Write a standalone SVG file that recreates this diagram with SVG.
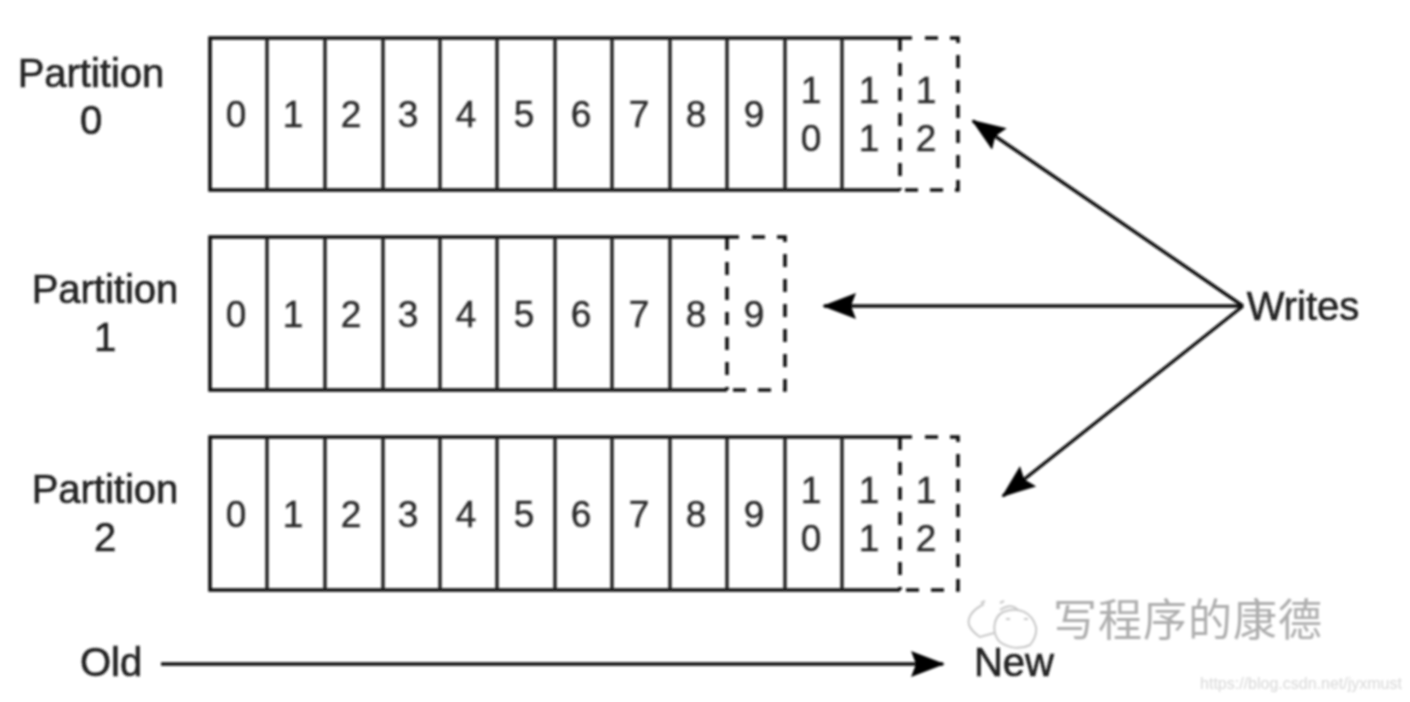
<svg xmlns="http://www.w3.org/2000/svg" width="1410" height="702" viewBox="0 0 1410 702">
<style>
text{font-family:"Liberation Sans",Arial,"Noto Sans CJK SC",sans-serif;fill:#222;text-anchor:middle}
.l{font-size:40px;stroke:#222;stroke-width:.6}
.d{font-size:37px;fill:#2a2a2a;stroke:#2a2a2a;stroke-width:.4}
.b{fill:none;stroke:#111;stroke-width:3.6}
.c{stroke:#222;stroke-width:3.4;fill:none}
.s{fill:none;stroke:#111;stroke-width:3.6;stroke-dasharray:13 12}
.a{stroke:#111;stroke-width:3.4;fill:none;marker-end:url(#h)}
</style>
<defs>
<marker id="h" viewBox="0 0 34 26" refX="32" refY="13" markerWidth="34" markerHeight="26" markerUnits="userSpaceOnUse" orient="auto"><path d="M0 0L34 13L0 26L5 13Z" fill="#000"/></marker>
<filter id="f" x="0" y="0" width="1410" height="702" filterUnits="userSpaceOnUse"><feGaussianBlur stdDeviation="0.8"/></filter>
</defs>
<rect width="1410" height="702" fill="#fff"/>
<g filter="url(#f)">
<g id="partition0">
<path class="b" d="M912 38H210V190H900"/>
<path class="c" d="M267 38V190M325 38V190M383 38V190M440 38V190M497 38V190M555 38V190M612 38V190M670 38V190M727 38V190M785 38V190M842 38V190"/>
<path class="s" d="M900 38V190"/>
<path class="s" d="M925 38H958V190H905"/>
<text class="l" x="91" y="87">Partition</text><text class="l" x="91" y="134">0</text>
<text class="d" x="236" y="127">0</text><text class="d" x="293" y="127">1</text><text class="d" x="351" y="127">2</text><text class="d" x="408" y="127">3</text><text class="d" x="466" y="127">4</text><text class="d" x="524" y="127">5</text><text class="d" x="581" y="127">6</text><text class="d" x="639" y="127">7</text><text class="d" x="696" y="127">8</text><text class="d" x="754" y="127">9</text>
<text class="d" x="811" y="103">1</text><text class="d" x="811" y="151">0</text><text class="d" x="869" y="103">1</text><text class="d" x="869" y="151">1</text><text class="d" x="926" y="103">1</text><text class="d" x="926" y="151">2</text>
</g>
<g id="partition1">
<path class="b" d="M739 237H210V390H727"/>
<path class="c" d="M267 237V390M325 237V390M383 237V390M440 237V390M497 237V390M555 237V390M612 237V390M670 237V390"/>
<path class="s" d="M727 237V390"/>
<path class="s" d="M752 237H785V390H732"/>
<text class="l" x="105" y="303">Partition</text><text class="l" x="105" y="351">1</text>
<text class="d" x="236" y="327">0</text><text class="d" x="293" y="327">1</text><text class="d" x="351" y="327">2</text><text class="d" x="408" y="327">3</text><text class="d" x="466" y="327">4</text><text class="d" x="524" y="327">5</text><text class="d" x="581" y="327">6</text><text class="d" x="639" y="327">7</text><text class="d" x="696" y="327">8</text><text class="d" x="754" y="327">9</text>
</g>
<g id="partition2">
<path class="b" d="M912 437H210V590H900"/>
<path class="c" d="M267 437V590M325 437V590M383 437V590M440 437V590M497 437V590M555 437V590M612 437V590M670 437V590M727 437V590M785 437V590M842 437V590"/>
<path class="s" d="M900 437V590"/>
<path class="s" d="M925 437H958V590H905"/>
<text class="l" x="105" y="503">Partition</text><text class="l" x="105" y="551">2</text>
<text class="d" x="236" y="527">0</text><text class="d" x="293" y="527">1</text><text class="d" x="351" y="527">2</text><text class="d" x="408" y="527">3</text><text class="d" x="466" y="527">4</text><text class="d" x="524" y="527">5</text><text class="d" x="581" y="527">6</text><text class="d" x="639" y="527">7</text><text class="d" x="696" y="527">8</text><text class="d" x="754" y="527">9</text>
<text class="d" x="811" y="503">1</text><text class="d" x="811" y="551">0</text><text class="d" x="869" y="503">1</text><text class="d" x="869" y="551">1</text><text class="d" x="926" y="503">1</text><text class="d" x="926" y="551">2</text>
</g>
<g id="writes"><text class="l" x="1303" y="320">Writes</text></g>
<g id="old"><text class="l" x="111" y="676">Old</text></g>
<g id="new"><text class="l" x="1014" y="676">New</text></g>
<g id="connectors">
<path class="a" d="M1243 306L973 121"/>
<path class="a" d="M1243 306L824 306"/>
<path class="a" d="M1243 306L1003 496"/>
<path class="a" d="M161 664L943 664"/>
</g>
<g id="watermark">
<g fill="none" stroke="#c8c8c8" stroke-width="2"><path d="M984 604C972 610 967 618 969 625C972 632 976 634 980 637L994 633"/><path d="M1000 610C1009 604 1014 606 1018 610"/><path d="M1000 642C992 634 992 618 1003 612C1018 606 1032 612 1036 627C1037 634 1034 640 1030 645C1020 650 1008 648 1000 642Z"/><path d="M981 603l4 -2M1000 603l4 -2M1006 619h4M1024 619h4"/></g>
<text x="1188" y="636" font-size="44" style="fill:#adadad;letter-spacing:1px">写程序的康德</text>
</g>
<text x="1301" y="689" font-size="16" style="fill:#d8d8d8">https://blog.csdn.net/jyxmust</text>
</g>
</svg>
